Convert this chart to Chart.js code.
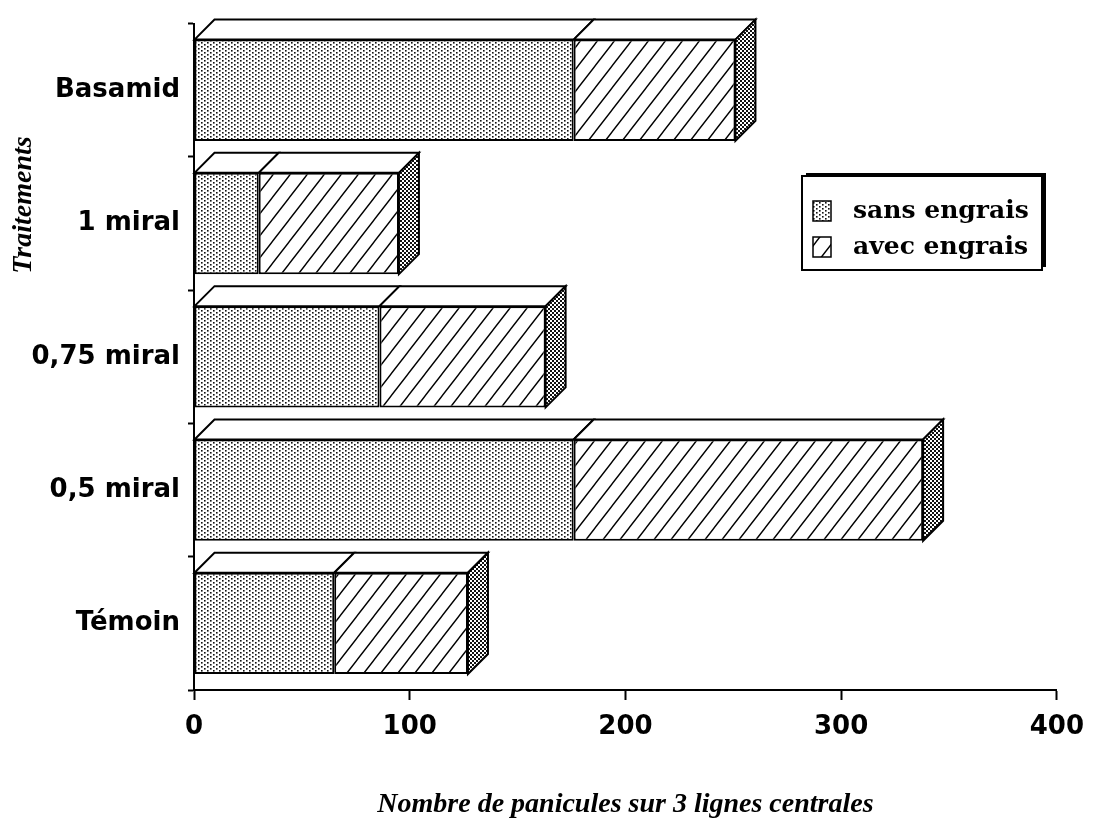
<!DOCTYPE html>
<html>
<head>
<meta charset="utf-8">
<script src="https://cdn.jsdelivr.net/npm/chart.js@4.4.0/dist/chart.umd.min.js"></script>
<style>
  html, body { margin: 0; padding: 0; background: #fff; }
  #wrap { position: relative; width: 1096px; height: 827px; }
</style>
</head>
<body>
<div id="wrap"><canvas id="chart"></canvas></div>
<script>
// donnees
const categories = ["Basamid", "1 miral", "0,75 miral", "0,5 miral", "Témoin"];
const sansEngrais = [176, 30, 86, 176, 65];
const avecEngrais = [75, 65, 77, 162, 62];
const xTicks = [0, 100, 200, 300, 400];
const seriesLabels = ["sans engrais", "avec engrais"];
const yTitle = "Traitements";
const xTitle = "Nombre de panicules sur 3 lignes centrales";

const DEPTH = 20;
const SANS = "'DejaVu Sans', sans-serif";
const SERIF = "'Liberation Serif', serif";
const HEAVY_SERIF = "'DejaVu Serif', serif";

// ---------- motifs ----------
function dotPattern(w, h, dots, r) {
  const c = document.createElement("canvas");
  c.width = w; c.height = h;
  const g = c.getContext("2d");
  g.fillStyle = "#fff";
  g.fillRect(0, 0, w, h);
  g.fillStyle = "#111";
  dots.forEach(([x, y]) => g.fillRect(x, y, r, r));
  return document.createElement("canvas").getContext("2d").createPattern(c, "repeat");
}

function hatchPattern(w, h) {
  const c = document.createElement("canvas");
  c.width = w; c.height = h;
  const g = c.getContext("2d");
  g.fillStyle = "#fff";
  g.fillRect(0, 0, w, h);
  g.strokeStyle = "#000";
  g.lineWidth = 1.4;
  const k = w / h;
  g.beginPath();
  // meme droite repetee pour raccorder les bords
  [-w, 0, w].forEach((ox) => {
    g.moveTo(ox - 2 * k, h + 2);
    g.lineTo(ox + w + 2 * k, -2);
  });
  g.stroke();
  return document.createElement("canvas").getContext("2d").createPattern(c, "repeat");
}

const dots = dotPattern(6, 4, [[0, 0], [3, 2]], 1.6);
const darkDots = dotPattern(4, 4, [[0, 0], [2, 2]], 2);
const hatch = hatchPattern(17, 22);

// ---------- effet 3D ----------
const bars3d = {
  id: "bars3d",
  afterDatasetsDraw(chart) {
    const ctx = chart.ctx;
    const metas = chart.getSortedVisibleDatasetMetas();
    ctx.save();
    ctx.lineWidth = 2;
    ctx.strokeStyle = "#000";
    metas.forEach((meta, di) => {
      meta.data.forEach((bar) => {
        const p = bar.getProps(["x", "y", "base", "height"], true);
        const top = p.y - p.height / 2;
        const bot = p.y + p.height / 2;
        const x0 = Math.min(p.base, p.x);
        const x1 = Math.max(p.base, p.x);

        ctx.beginPath();
        ctx.moveTo(x0, top);
        ctx.lineTo(x0 + DEPTH, top - DEPTH);
        ctx.lineTo(x1 + DEPTH, top - DEPTH);
        ctx.lineTo(x1, top);
        ctx.closePath();
        ctx.fillStyle = "#fff";
        ctx.fill();
        ctx.stroke();

        if (di === metas.length - 1) {
          ctx.beginPath();
          ctx.moveTo(x1, top);
          ctx.lineTo(x1 + DEPTH, top - DEPTH);
          ctx.lineTo(x1 + DEPTH, bot - DEPTH);
          ctx.lineTo(x1, bot);
          ctx.closePath();
          ctx.fillStyle = darkDots;
          ctx.fill();
          ctx.stroke();
        }
      });
    });
    ctx.restore();
  }
};

// ---------- legende + titre vertical ----------
const extras = {
  id: "extras",
  afterDraw(chart) {
    const ctx = chart.ctx;
    ctx.save();

    // titre axe y
    ctx.translate(24, 205);
    ctx.rotate(-Math.PI / 2);
    ctx.font = "italic bold 28px " + SERIF;
    ctx.fillStyle = "#000";
    ctx.textAlign = "center";
    ctx.textBaseline = "middle";
    ctx.fillText(yTitle, 0, 0);
    ctx.setTransform(1, 0, 0, 1, 0, 0);

    // cadre legende avec ombre
    const bx = 802, by = 176, bw = 240, bh = 94;
    ctx.fillStyle = "#000";
    ctx.fillRect(bx + 4, by - 3, bw, bh);
    ctx.fillStyle = "#fff";
    ctx.fillRect(bx, by, bw, bh);
    ctx.lineWidth = 2;
    ctx.strokeStyle = "#000";
    ctx.strokeRect(bx, by, bw, bh);

    const fills = [dots, hatch];
    ctx.font = "bold 25px " + HEAVY_SERIF;
    ctx.textAlign = "left";
    ctx.textBaseline = "middle";
    seriesLabels.forEach((lab, i) => {
      const cy = by + 35 + i * 36;
      ctx.fillStyle = fills[i];
      ctx.fillRect(813, cy - 10, 18, 20);
      ctx.lineWidth = 1.5;
      ctx.strokeRect(813, cy - 10, 18, 20);
      ctx.fillStyle = "#000";
      ctx.fillText(lab, 853, cy);
    });
    ctx.restore();
  }
};

new Chart(document.getElementById("chart"), {
  type: "bar",
  data: {
    labels: categories,
    datasets: [
      {
        label: seriesLabels[0],
        data: sansEngrais,
        backgroundColor: dots,
        borderColor: "#000",
        borderWidth: 2,
        borderSkipped: false
      },
      {
        label: seriesLabels[1],
        data: avecEngrais,
        backgroundColor: hatch,
        borderColor: "#000",
        borderWidth: 2,
        borderSkipped: false
      }
    ]
  },
  options: {
    indexAxis: "y",
    responsive: true,
    maintainAspectRatio: false,
    animation: false,
    clip: false,
    categoryPercentage: 1,
    barPercentage: 0.76,
    layout: { padding: { top: 19, right: 37, left: 0, bottom: 0 } },
    plugins: {
      legend: { display: false },
      tooltip: { enabled: false }
    },
    scales: {
      x: {
        stacked: true,
        min: 0,
        max: 400,
        afterBuildTicks: (s) => { s.ticks = xTicks.map((v) => ({ value: v })); },
        afterFit: (s) => { s.height = 137; },
        border: { color: "#000", width: 2 },
        grid: { drawOnChartArea: false, tickColor: "#000", tickWidth: 2, tickLength: 10 },
        ticks: { color: "#000", padding: 12, font: { family: SANS, weight: "bold", size: 26 } },
        title: {
          display: true,
          text: xTitle,
          color: "#000",
          padding: { top: 0, bottom: 5 },
          font: { family: SERIF, weight: "bold", style: "italic", size: 28 }
        }
      },
      y: {
        stacked: true,
        afterFit: (s) => { s.width = 194; },
        border: { color: "#000", width: 2 },
        grid: { drawOnChartArea: false, offset: true, tickColor: "#000", tickWidth: 2, tickLength: 6 },
        ticks: { color: "#000", padding: 8, font: { family: SANS, weight: "bold", size: 26 } }
      }
    }
  },
  plugins: [bars3d, extras]
});
</script>
</body>
</html>
